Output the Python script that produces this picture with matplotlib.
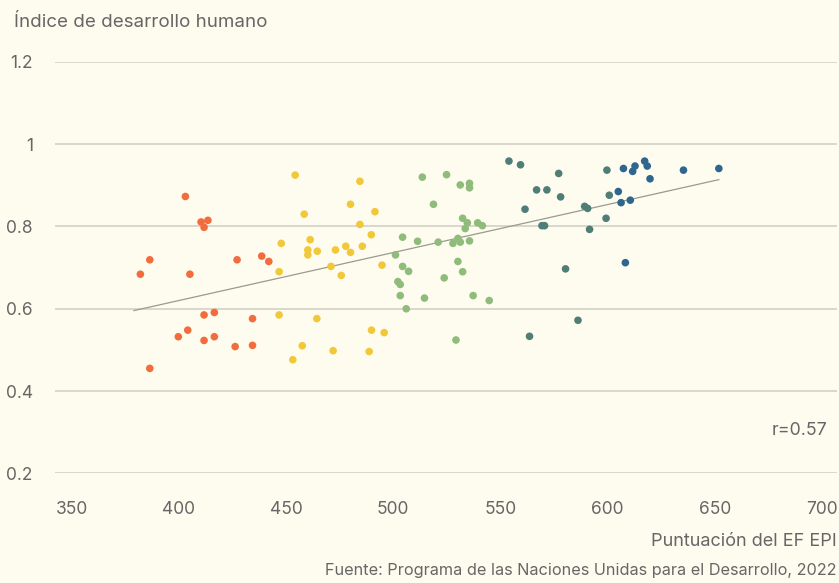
import numpy as np
import matplotlib.pyplot as plt

plt.rcParams['font.family'] = ['Inter', 'DejaVu Sans']

# Puntuación EF EPI (x) e índice de desarrollo humano (y), por grupo de color
naranja_x = [403.1, 410.4, 413.6, 411.8, 386.5, 382.1, 405.2, 427.2, 438.7, 442.0,
             411.8, 416.6, 434.4, 399.8, 404.2, 411.8, 416.6, 426.3, 434.4, 386.5]
naranja_y = [0.873, 0.811, 0.815, 0.798, 0.719, 0.684, 0.684, 0.719, 0.728, 0.715,
             0.585, 0.591, 0.576, 0.532, 0.548, 0.523, 0.532, 0.508, 0.511, 0.455]

amarillo_x = [454.3, 484.5, 480.1, 458.5, 491.5, 484.5, 489.8, 447.8, 461.3, 460.2,
              460.2, 464.6, 473.1, 477.9, 480.1, 485.6, 446.8, 471.0, 475.8, 494.8,
              446.8, 464.4, 489.9, 495.8, 457.6, 472.0, 488.8, 453.2]
amarillo_y = [0.925, 0.910, 0.854, 0.830, 0.836, 0.805, 0.780, 0.759, 0.768, 0.743,
              0.731, 0.740, 0.743, 0.752, 0.737, 0.752, 0.690, 0.703, 0.681, 0.706,
              0.585, 0.576, 0.548, 0.542, 0.510, 0.498, 0.496, 0.476]

verde_x = [513.6, 524.9, 531.3, 535.6, 535.6, 518.8, 532.4, 534.6, 533.6, 539.4,
           541.6, 504.4, 511.4, 521.0, 530.2, 527.9, 531.3, 535.6, 501.1, 504.4,
           507.2, 530.2, 532.4, 523.8, 502.2, 503.3, 503.3, 514.6, 537.3, 544.8,
           506.1, 529.3]
verde_y = [0.920, 0.926, 0.901, 0.905, 0.894, 0.854, 0.820, 0.809, 0.795, 0.809,
           0.802, 0.774, 0.764, 0.762, 0.771, 0.759, 0.762, 0.765, 0.731, 0.703,
           0.691, 0.715, 0.690, 0.675, 0.666, 0.659, 0.632, 0.626, 0.632, 0.620,
           0.600, 0.524]

teal_x = [554.0, 559.4, 577.2, 599.7, 566.9, 571.7, 578.1, 600.8, 561.5, 589.3,
          590.7, 599.3, 569.4, 570.6, 591.6, 580.4, 586.2, 563.6]
teal_y = [0.959, 0.950, 0.929, 0.937, 0.889, 0.889, 0.872, 0.876, 0.842, 0.849,
          0.844, 0.820, 0.802, 0.802, 0.793, 0.697, 0.572, 0.533]

azul_x = [607.4, 611.7, 612.8, 617.3, 618.5, 619.8, 635.4, 651.9, 605.0, 606.3,
          610.6, 608.3]
azul_y = [0.941, 0.934, 0.947, 0.959, 0.947, 0.916, 0.937, 0.941, 0.885, 0.858,
          0.864, 0.712]

grupos = [
    (naranja_x, naranja_y, '#F26D3D'),
    (amarillo_x, amarillo_y, '#F1C83A'),
    (verde_x, verde_y, '#8FBB7B'),
    (teal_x, teal_y, '#4F7E76'),
    (azul_x, azul_y, '#2E6690'),
]

fondo = '#FEFCEF'
gris = '#666666'

fig = plt.figure(figsize=(8.39, 5.83), dpi=100, facecolor=fondo)
ax = fig.add_axes([0.0656, 0.1882, 0.932, 0.7055], facecolor=fondo)

for xs, ys, color in grupos:
    ax.scatter(xs, ys, s=30, color=color, edgecolors='none', zorder=3)

# Línea de tendencia (regresión lineal sobre todos los puntos)
todos_x = np.concatenate([g[0] for g in grupos])
todos_y = np.concatenate([g[1] for g in grupos])
m, b = np.polyfit(todos_x, todos_y, 1)
lx = np.array([todos_x.min() - 3, todos_x.max()])
ax.plot(lx, m * lx + b, color='#9a9a90', lw=0.9, zorder=2)

ax.set_xlim(342.3, 707)
ax.set_ylim(0.2, 1.2)
ax.set_xticks([350, 400, 450, 500, 550, 600, 650, 700])
ax.set_yticks([0.2, 0.4, 0.6, 0.8, 1.0, 1.2])
ax.set_yticklabels(['0.2', '0.4', '0.6', '0.8', '1', '1.2'])
ax.grid(axis='y', color='#D3D1C5', lw=1.2)
ax.set_axisbelow(True)
for s in ax.spines.values():
    s.set_visible(False)
ax.tick_params(length=0, labelsize=12.5, colors=gris)
ax.tick_params(axis='x', pad=20)
ax.tick_params(axis='y', pad=16)

fig.text(0.0167, 0.962, 'Índice de desarrollo humano', fontsize=13.5, color=gris,
         ha='left', va='center')
ax.text(0.988, 0.103, 'r=0.57', transform=ax.transAxes, fontsize=12.8, color=gris,
        ha='right', va='center')
fig.text(0.997, 0.072, 'Puntuación del EF EPI', fontsize=13, color=gris,
         ha='right', va='center')
fig.text(0.997, 0.021, 'Fuente: Programa de las Naciones Unidas para el Desarrollo, 2022',
         fontsize=11.7, color=gris, ha='right', va='center')

fig.savefig('out.png', dpi=100, facecolor=fondo)
